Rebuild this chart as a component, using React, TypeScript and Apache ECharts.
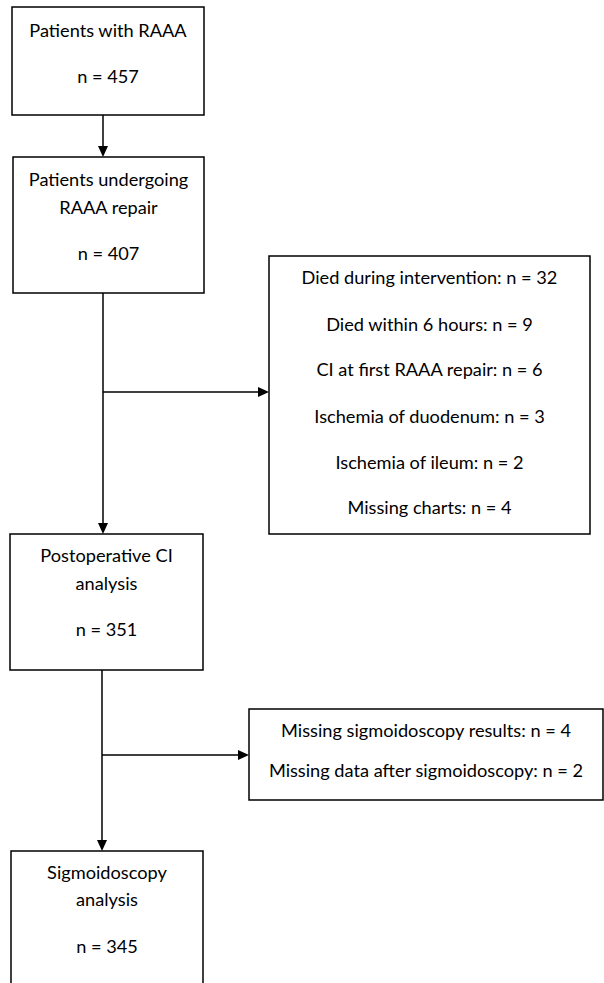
import React, { useEffect, useRef } from "react";
import * as echarts from "echarts";

const box1Lines = ["Patients with RAAA", "n = 457"];
const box2Lines = ["Patients undergoing", "RAAA repair", "n = 407"];
const exclusion1Lines = [
  "Died during intervention: n = 32",
  "Died within 6 hours: n = 9",
  "CI at first RAAA repair: n = 6",
  "Ischemia of duodenum: n = 3",
  "Ischemia of ileum: n = 2",
  "Missing charts: n = 4",
];
const box4Lines = ["Postoperative CI", "analysis", "n = 351"];
const exclusion2Lines = [
  "Missing sigmoidoscopy results: n = 4",
  "Missing data after sigmoidoscopy: n = 2",
];
const box6Lines = ["Sigmoidoscopy", "analysis", "n = 345"];

const FONT = "Lato, 'Open Sans', sans-serif";
const FS = 18.2;
const LW = 1.5;

type Box = { x: number; y: number; w: number; h: number; lines: string[]; ys: number[] };

const boxes: Box[] = [
  { x: 12, y: 7, w: 192, h: 108, lines: box1Lines, ys: [30, 76] },
  { x: 13, y: 157, w: 191, h: 136, lines: box2Lines, ys: [179, 207, 253] },
  { x: 269, y: 256, w: 321, h: 278, lines: exclusion1Lines, ys: [277, 324, 369, 416, 462, 507] },
  { x: 10, y: 534, w: 193, h: 136, lines: box4Lines, ys: [555, 583, 629] },
  { x: 249, y: 709, w: 354, h: 91, lines: exclusion2Lines, ys: [730, 770] },
  { x: 11, y: 851, w: 192, h: 150, lines: box6Lines, ys: [872, 899, 946] },
];

function arrowDown(x: number, y1: number, y2: number): any[] {
  return [
    { type: "line", shape: { x1: x, y1, x2: x, y2: y2 - 10 }, style: { stroke: "#000", lineWidth: LW } },
    { type: "polygon", shape: { points: [[x - 5, y2 - 11], [x + 5, y2 - 11], [x, y2]] }, style: { fill: "#000" } },
  ];
}
function arrowRight(x1: number, x2: number, y: number): any[] {
  return [
    { type: "line", shape: { x1, y1: y, x2: x2 - 10, y2: y }, style: { stroke: "#000", lineWidth: LW } },
    { type: "polygon", shape: { points: [[x2 - 11, y - 5], [x2 - 11, y + 5], [x2, y]] }, style: { fill: "#000" } },
  ];
}

export default function App() {
  const ref = useRef<HTMLDivElement>(null);
  useEffect(() => {
    document.body.style.margin = "0";
    const chart = echarts.init(ref.current!, null, { renderer: "svg" });
    const elements: any[] = [];
    boxes.forEach((b) => {
      elements.push({
        type: "rect",
        shape: { x: b.x, y: b.y, width: b.w, height: b.h },
        style: { fill: "#fff", stroke: "#000", lineWidth: LW },
      });
      b.lines.forEach((t, i) => {
        elements.push({
          type: "text",
          x: b.x + b.w / 2,
          y: b.ys[i],
          style: {
            text: t,
            fill: "#000",
            font: `${FS}px ${FONT}`,
            align: "center",
            verticalAlign: "middle",
          },
        });
      });
    });
    elements.push(...arrowDown(103, 115, 157));
    elements.push({ type: "line", shape: { x1: 103, y1: 293, x2: 103, y2: 392 }, style: { stroke: "#000", lineWidth: LW } });
    elements.push(...arrowRight(103, 269, 392));
    elements.push(...arrowDown(103, 392, 534));
    elements.push({ type: "line", shape: { x1: 102, y1: 670, x2: 102, y2: 755 }, style: { stroke: "#000", lineWidth: LW } });
    elements.push(...arrowRight(102, 249, 755));
    elements.push(...arrowDown(102, 755, 851));
    chart.setOption({
      animation: false,
      backgroundColor: "#fff",
      graphic: { elements },
    });
    return () => chart.dispose();
  }, []);
  return <div ref={ref} style={{ width: 604, height: 983 }} />;
}
